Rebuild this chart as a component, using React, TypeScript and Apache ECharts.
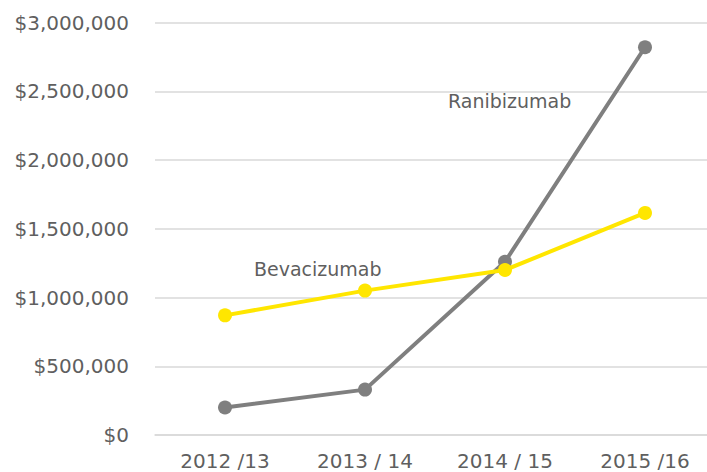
import React, { useEffect, useRef } from "react";
import * as echarts from "echarts";

const categories = ["2012 /13", "2013 / 14", "2014 / 15", "2015 /16"];
const ranibizumab = [200000, 330000, 1260000, 2820000];
const bevacizumab = [870000, 1050000, 1200000, 1615000];
const yTicks = [0, 500000, 1000000, 1500000, 2000000, 2500000, 3000000];

const FONT = "DejaVu Sans";
const TEXT = "#5f5f5f";

export default function App() {
  const ref = useRef<HTMLDivElement>(null);
  useEffect(() => {
    if (!ref.current) return;
    const chart = echarts.init(ref.current, undefined, { renderer: "svg" });
    chart.setOption({
      animation: false,
      backgroundColor: "#ffffff",
      grid: { left: 155, right: 0, top: 22.5, bottom: 37, containLabel: false },
      xAxis: {
        type: "category",
        data: categories,
        boundaryGap: true,
        axisLine: { lineStyle: { color: "#d9d9d9", width: 1.5 } },
        axisTick: { show: false },
        axisLabel: { color: TEXT, fontFamily: FONT, fontSize: 20, margin: 16 },
      },
      yAxis: {
        type: "value",
        min: yTicks[0],
        max: yTicks[yTicks.length - 1],
        interval: 500000,
        axisLine: { show: false },
        axisTick: { show: false },
        splitLine: { lineStyle: { color: "#d9d9d9", width: 1.5 } },
        axisLabel: {
          color: TEXT,
          fontFamily: FONT,
          fontSize: 20,
          margin: 26,
          formatter: (v: number) => "$" + v.toLocaleString("en-US"),
        },
      },
      series: [
        {
          name: "Ranibizumab",
          type: "line",
          data: ranibizumab,
          symbol: "circle",
          symbolSize: 14,
          lineStyle: { color: "#7f7f7f", width: 4 },
          itemStyle: { color: "#7f7f7f" },
          z: 2,
        },
        {
          name: "Bevacizumab",
          type: "line",
          data: bevacizumab,
          symbol: "circle",
          symbolSize: 14,
          lineStyle: { color: "#ffe600", width: 4 },
          itemStyle: { color: "#ffe600" },
          z: 3,
        },
      ],
      graphic: [
        {
          type: "text",
          left: 448,
          top: 91,
          style: { text: "Ranibizumab", fill: TEXT, fontFamily: FONT, fontSize: 19 },
        },
        {
          type: "text",
          left: 254,
          top: 259,
          style: { text: "Bevacizumab", fill: TEXT, fontFamily: FONT, fontSize: 19 },
        },
      ],
    });
    return () => chart.dispose();
  }, []);
  return (
    <div style={{ position: "absolute", left: 0, top: 0, width: 707, height: 472, overflow: "hidden" }}>
      <div ref={ref} style={{ width: 715, height: 472 }} />
    </div>
  );
}
